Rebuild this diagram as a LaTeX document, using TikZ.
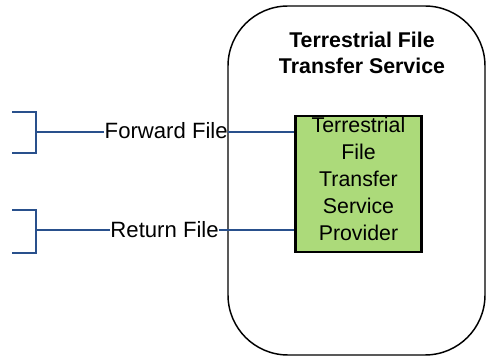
\documentclass[tikz,border=0pt]{standalone}
\usepackage{fontspec}
\setmainfont{Liberation Sans}
\usepackage{xcolor}
\definecolor{linkblue}{RGB}{41,80,140}
\definecolor{provgreen}{RGB}{172,218,122}
\tikzset{
  txt/.style={inner sep=0pt,font=\fontsize{16}{20}\selectfont},
  link/.style={draw=linkblue,line width=1.3pt},
  provbox/.style={draw=black,line width=2.2pt,fill=provgreen,minimum width=95pt,minimum height=102pt,inner sep=0pt}
}
\begin{document}
\begin{tikzpicture}[x=0.75pt,y=-0.75pt]
\useasboundingbox (0,0) rectangle (486,356);
% service outline
\draw[line width=1.1pt,rounded corners=45pt] (228,6) rectangle (485,355);
\node[txt,font=\fontsize{16}{19}\selectfont\bfseries,align=center] (title) at (362,53) {Terrestrial File\\Transfer Service};
% provider
\node[provbox] (provider) at (358.5,184) {};
\node[txt,align=center,font=\fontsize{16}{20.3}\selectfont] (provtext) at (358.5,179) {Terrestrial\\File\\Transfer\\Service\\Provider};
% brackets
\draw[link] (12,112) -- (36,112) -- (36,153) -- (12,153);
\coordinate (fwdend) at (36,132);
\draw[link] (12,210) -- (36,210) -- (36,253) -- (12,253);
\coordinate (retend) at (36,230);
% labels
\node[txt,anchor=east,font=\fontsize{16.6}{20}\selectfont] (fwdlabel) at (228,131) {Forward File};
\node[txt,anchor=east,font=\fontsize{16.6}{20}\selectfont] (retlabel) at (219,230) {Return File};
\draw[link] (fwdend) -- (fwdend -| fwdlabel.west);
\draw[link] (fwdlabel.east |- fwdend) -- (fwdend -| provider.west);
\draw[link] (retend) -- (retend -| retlabel.west);
\draw[link] (retlabel.east |- retend) -- (retend -| provider.west);
\end{tikzpicture}
\end{document}
